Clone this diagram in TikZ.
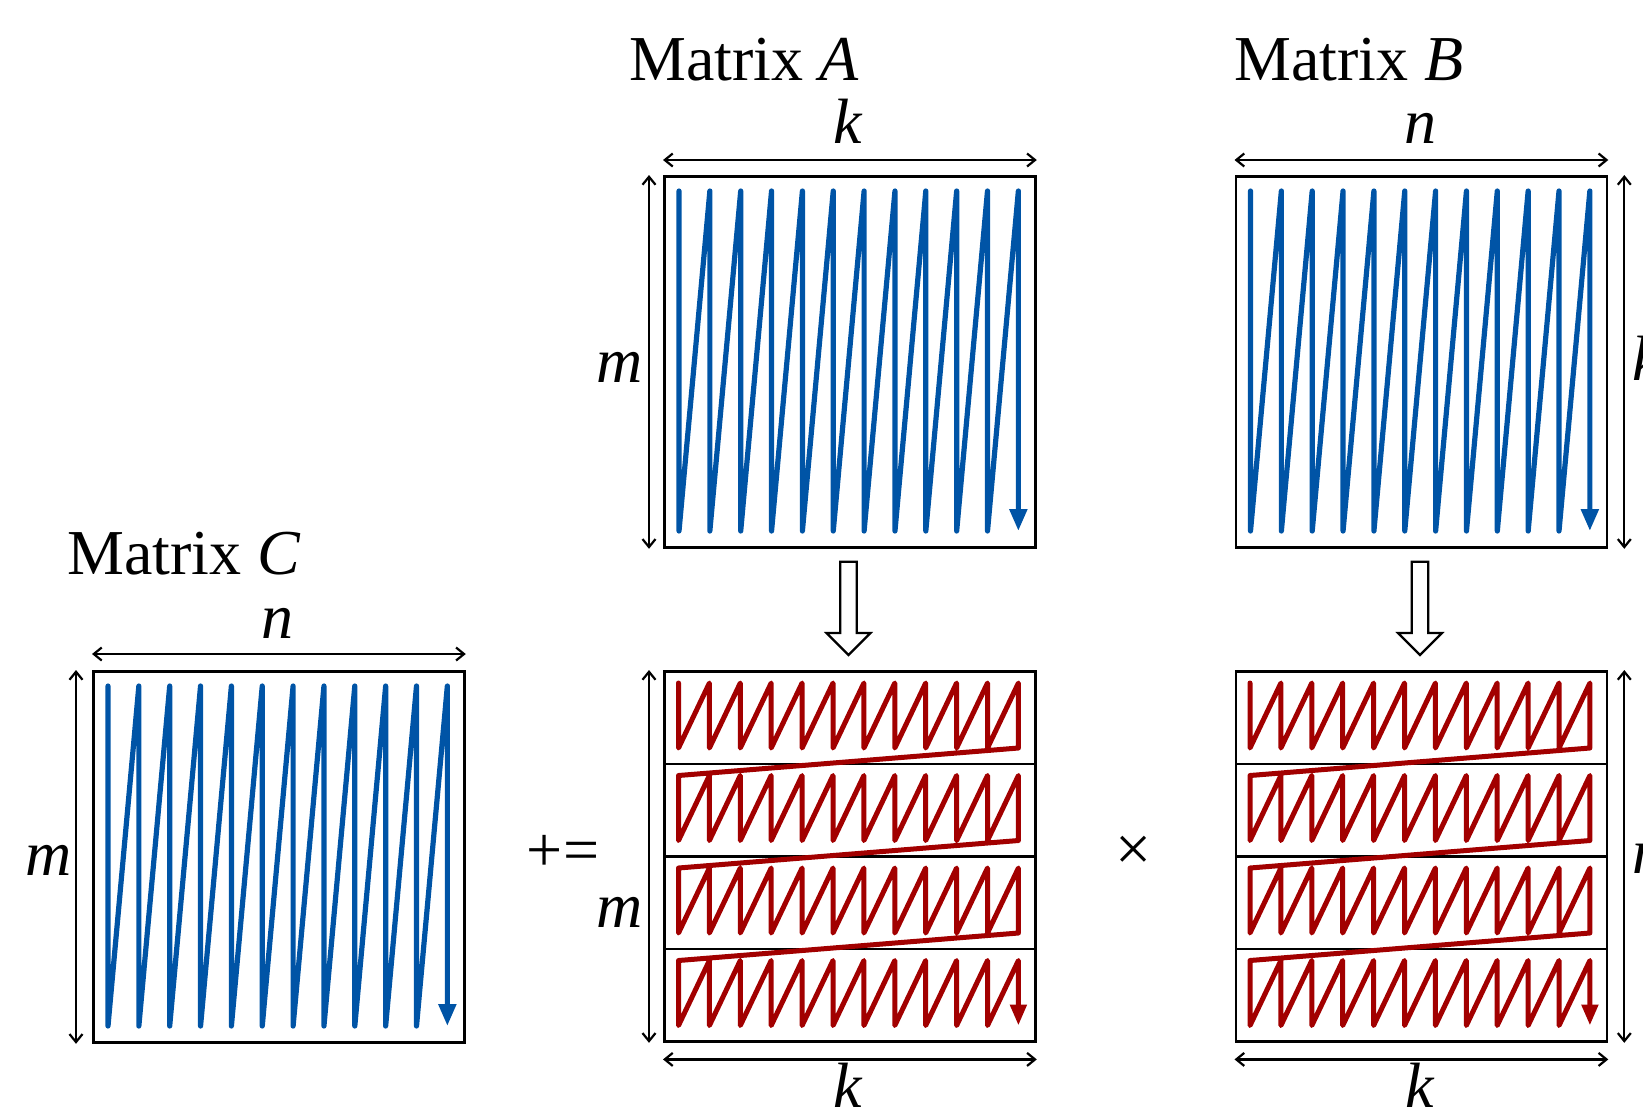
\documentclass[tikz,border=0pt]{standalone}
\usepackage{fontspec}
\setmainfont{Liberation Serif}
\usetikzlibrary{arrows.meta}
\definecolor{zigblue}{RGB}{0,84,166}
\definecolor{zigred}{RGB}{162,0,0}
\begin{document}
\begin{tikzpicture}[x=0.5pt,y=-0.5pt,
  mat/.style={draw=black,line width=1.4pt,minimum width=185.5pt,minimum height=185.5pt,inner sep=0pt,anchor=north west},
  strip/.style={draw=black,line width=1.4pt,minimum width=185.5pt,minimum height=46.25pt,inner sep=0pt,anchor=north west},
  dim/.style={line width=1.1pt,{Straight Barb[length=4pt,width=6.5pt]}-{Straight Barb[length=4pt,width=6.5pt]}},
  lbl/.style={inner sep=0pt,font=\fontsize{32}{38}\selectfont},
  zigb/.style={draw=zigblue,line width=2.6pt,line join=round,line cap=round,-{Triangle[length=11pt,width=8.5pt]}},
  zigr/.style={draw=zigred,line width=2.5pt,line join=round,line cap=round,-{Triangle[length=10.5pt,width=8pt]}},
  blockarrow/.style={draw=black,fill=white,line width=1.1pt,line join=miter}
]
\useasboundingbox (0,0) rectangle (1643,1115);
\clip (0,0) rectangle (1643,1115);

% boxes
\node[mat] (A) at (663,175) {};
\node[mat] (B) at (1234.5,175) {};
\node[mat] (C) at (92,670) {};
\foreach \s in {1,...,4}{
  \node[strip] (rA\s) at (663,{670+92.5*(\s-1)}) {};
  \node[strip] (rB\s) at (1234.5,{670+92.5*(\s-1)}) {};
}

% blue zigzags
\foreach \bx/\by in {663/175,1234.5/175,92/670}{
  \draw[zigb] ({\bx+16},{\by+16})
    \foreach \i in {1,...,11}{ -- ({\bx+16+(\i-1)*30.85},{\by+356}) -- ({\bx+16+\i*30.85},{\by+16}) }
    -- ({\bx+16+11*30.85},{\by+356});
}

% red zigzags
\foreach \bx in {663,1234.5}{
  \draw[zigr] ({\bx+15.5},683)
    \foreach \s in {0,1,2}{
      \foreach \i in {0,...,10}{ -- ({\bx+15.5+\i*30.9},{670+92.5*\s+78}) -- ({\bx+15.5+(\i+1)*30.9},{670+92.5*\s+13}) }
      -- ({\bx+15.5+11*30.9},{670+92.5*\s+78}) -- ({\bx+15.5},{670+92.5*(\s+1)+13})
    }
    \foreach \i in {0,...,10}{ -- ({\bx+15.5+\i*30.9},{670+92.5*3+78}) -- ({\bx+15.5+(\i+1)*30.9},{670+92.5*3+13}) }
    -- ({\bx+15.5+11*30.9},{670+92.5*3+78});
}

% block arrows
\foreach \c in {848.5,1420}{
  \draw[blockarrow] ({\c-8.3},561.7) -- ({\c+8.3},561.7) -- ({\c+8.3},633) -- ({\c+22},633)
    -- (\c,655) -- ({\c-22},633) -- ({\c-8.3},633) -- cycle;
}

% dimension arrows
\draw[dim] ([yshift=7.5pt]A.north west) -- ([yshift=7.5pt]A.north east);
\draw[dim] ([xshift=-7pt]A.north west) -- ([xshift=-7pt]A.south west);
\draw[dim] ([yshift=7.5pt]B.north west) -- ([yshift=7.5pt]B.north east);
\draw[dim] ([xshift=8pt]B.north east) -- ([xshift=8pt]B.south east);
\draw[dim] ([yshift=8pt]C.north west) -- ([yshift=8pt]C.north east);
\draw[dim] ([xshift=-8pt]C.north west) -- ([xshift=-8pt]C.south west);
\draw[dim] ([xshift=-7pt]rA1.north west) -- ([xshift=-7pt]rA4.south west);
\draw[dim] ([yshift=-8.3pt]rA4.south west) -- ([yshift=-8.3pt]rA4.south east);
\draw[dim] ([xshift=8pt]rB1.north east) -- ([xshift=8pt]rB4.south east);
\draw[dim] ([yshift=-8.3pt]rB4.south west) -- ([yshift=-8.3pt]rB4.south east);

% labels
\node[lbl,anchor=base west] (tA) at (629,80) {Matrix \textit{A}};
\node[lbl,anchor=base west] (tB) at (1234,80) {Matrix \textit{B}};
\node[lbl,anchor=base west] (tC) at (67,574) {Matrix \textit{C}};
\node[lbl,anchor=base] (kA) at (848.5,143) {\textit{k}};
\node[lbl,anchor=base] (nB) at (1420,143) {\textit{n}};
\node[lbl,anchor=base] (nC) at (277,638) {\textit{n}};
\node[lbl,anchor=base east] (mA) at (643,382) {\textit{m}};
\node[lbl,anchor=base east] (mC) at (72,875) {\textit{m}};
\node[lbl,anchor=base east] (mrA) at (643,927) {\textit{m}};
\node[lbl,anchor=base west] (kB) at (1632,380) {\textit{k}};
\node[lbl,anchor=base west] (nrB) at (1632,873) {\textit{n}};
\node[lbl,anchor=base] (krA) at (848.5,1107) {\textit{k}};
\node[lbl,anchor=base] (krB) at (1420,1107) {\textit{k}};
\node[lbl] (pe) at (563,853) {+=};
\node[lbl] (tm) at (1134,853) {×};
\end{tikzpicture}
\end{document}
